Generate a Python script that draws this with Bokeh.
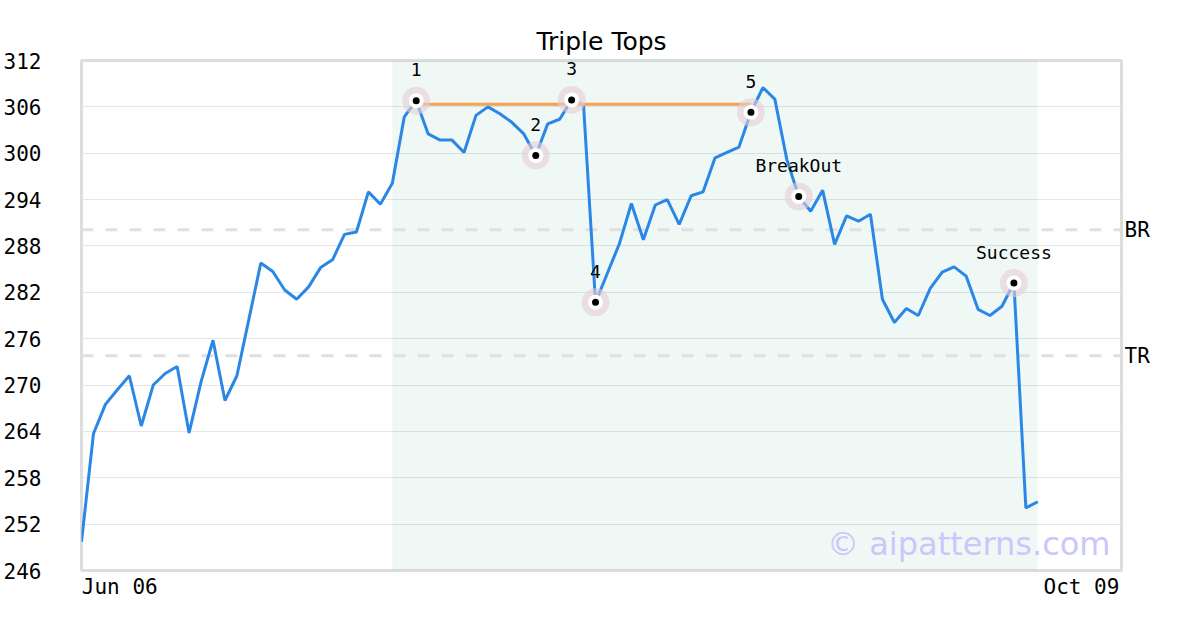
from bokeh.plotting import figure
from bokeh.models import Range1d, FixedTicker, LinearAxis, Span, BoxAnnotation, Label, ColumnDataSource
from bokeh.embed import file_html
from bokeh.resources import INLINE
from bokeh.core.properties import value

# ---------------- data ----------------
prices = [249.7, 263.7, 267.5, 269.4, 271.2, 264.7, 270.0, 271.5, 272.4, 263.8,
          270.4, 275.8, 268.0, 271.2, 278.5, 285.8, 284.7, 282.3, 281.1, 282.7,
          285.2, 286.2, 289.5, 289.8, 295.0, 293.4, 296.1, 304.7, 306.8, 302.5,
          301.7, 301.7, 300.1, 304.9, 306.0, 305.1, 304.0, 302.5, 299.7, 303.8,
          304.4, 306.9, 306.2, 280.7, 284.5, 288.3, 293.5, 288.8, 293.3, 294.0,
          290.8, 294.5, 295.0, 299.4, 300.1, 300.8, 305.3, 308.5, 307.0, 299.2,
          294.4, 292.5, 295.2, 288.2, 291.9, 291.2, 292.1, 281.1, 278.1, 279.9,
          279.0, 282.5, 284.6, 285.3, 284.1, 279.8, 279.0, 280.2, 283.2, 254.1,
          254.9]
marker_idx = [28, 38, 41, 43, 56, 60, 78]
marker_labels = ["1", "2", "3", "4", "5", "BreakOut", "Success"]
top_idx = [28, 41, 56]
pattern_start, pattern_end = 26, 80
BR, TR = 290.1, 273.8
x_tick_labels = ["Jun 06", "Oct 09"]
y_ticks = [246, 252, 258, 264, 270, 276, 282, 288, 294, 300, 306, 312]
title = "Triple Tops"
watermark = "© aipatterns.com"

# ---------------- chart ----------------
N = len(prices)
x_end = 87.0
xs = list(range(N))

p = figure(frame_width=1040, frame_height=510,
           min_border_left=72, min_border_right=72, min_border_top=60, min_border_bottom=50,
           x_range=Range1d(0, x_end), y_range=Range1d(y_ticks[0], y_ticks[-1]),
           output_backend="svg", toolbar_location=None, title=title)
p.background_fill_color = "white"
p.border_fill_color = "white"
p.outline_line_color = "#dddddd"
p.outline_line_width = 3

p.title.text_font = "DejaVu Sans"
p.title.text_font_size = "25px"
p.title.text_font_style = "normal"
p.title.align = "center"
p.title.text_color = "black"

mono = "DejaVu Sans Mono"
for ax in (p.xaxis[0], p.yaxis[0]):
    ax.axis_line_color = None
    ax.major_tick_line_color = None
    ax.minor_tick_line_color = None
    ax.major_label_text_font = mono
    ax.major_label_text_font_size = "21px"
    ax.major_label_text_color = "black"

p.yaxis[0].ticker = FixedTicker(ticks=y_ticks)
p.yaxis[0].major_label_standoff = 34

x_tick_pos = [3.2, x_end - 3.35]
p.xaxis[0].ticker = FixedTicker(ticks=x_tick_pos)
p.xaxis[0].major_label_overrides = {x_tick_pos[0]: x_tick_labels[0], x_tick_pos[1]: x_tick_labels[1]}
p.xaxis[0].major_label_standoff = -2

p.xgrid.grid_line_color = None
p.ygrid.ticker = FixedTicker(ticks=y_ticks)
p.ygrid.grid_line_color = "#e6e6e6"
p.ygrid.grid_line_width = 1

# right axis for BR / TR
rax = LinearAxis(ticker=FixedTicker(ticks=[BR, TR]),
                 major_label_overrides={BR: "BR", TR: "TR"})
rax.axis_line_color = None
rax.major_tick_line_color = None
rax.minor_tick_line_color = None
rax.major_label_text_font = mono
rax.major_label_text_font_size = "21px"
rax.major_label_text_color = "black"
rax.major_label_standoff = -3
p.add_layout(rax, "right")

# pattern shading
p.add_layout(BoxAnnotation(left=pattern_start, right=pattern_end, fill_color="#30a080",
                           fill_alpha=0.07, line_color=None, level="underlay"))

for lvl in (BR, TR):
    p.add_layout(Span(location=lvl, dimension="width", line_color="#e0e0e0",
                      line_width=3, line_dash="12 12", level="underlay"))

# price line
p.line(xs, prices, line_color="#2b87e6", line_width=3)

# top level line
top_level = sum(prices[i] for i in top_idx) / len(top_idx)
p.line([top_idx[0], top_idx[-1]], [top_level, top_level], line_color="#f8a050", line_width=3)

src = ColumnDataSource(dict(x=marker_idx, y=[prices[i] for i in marker_idx], t=marker_labels))
p.scatter("x", "y", source=src, size=28, fill_color="#e6cdd6", fill_alpha=0.6, line_color=None)
p.scatter("x", "y", source=src, size=15, fill_color="white", line_color=None)
p.scatter("x", "y", source=src, size=7, fill_color="black", line_color=None)
p.text("x", "y", text="t", source=src, text_font=value(mono), text_font_size="18px",
       text_align="center", text_baseline="middle", y_offset=-31, text_color="black")

p.add_layout(Label(x=x_end, y=y_ticks[0], x_offset=-11, y_offset=27, text=watermark,
                   text_align="right", text_baseline="alphabetic", text_font="DejaVu Sans",
                   text_font_size="32px", text_color="#c8c8fa"))

open("out.html", "w").write(file_html(p, INLINE))
